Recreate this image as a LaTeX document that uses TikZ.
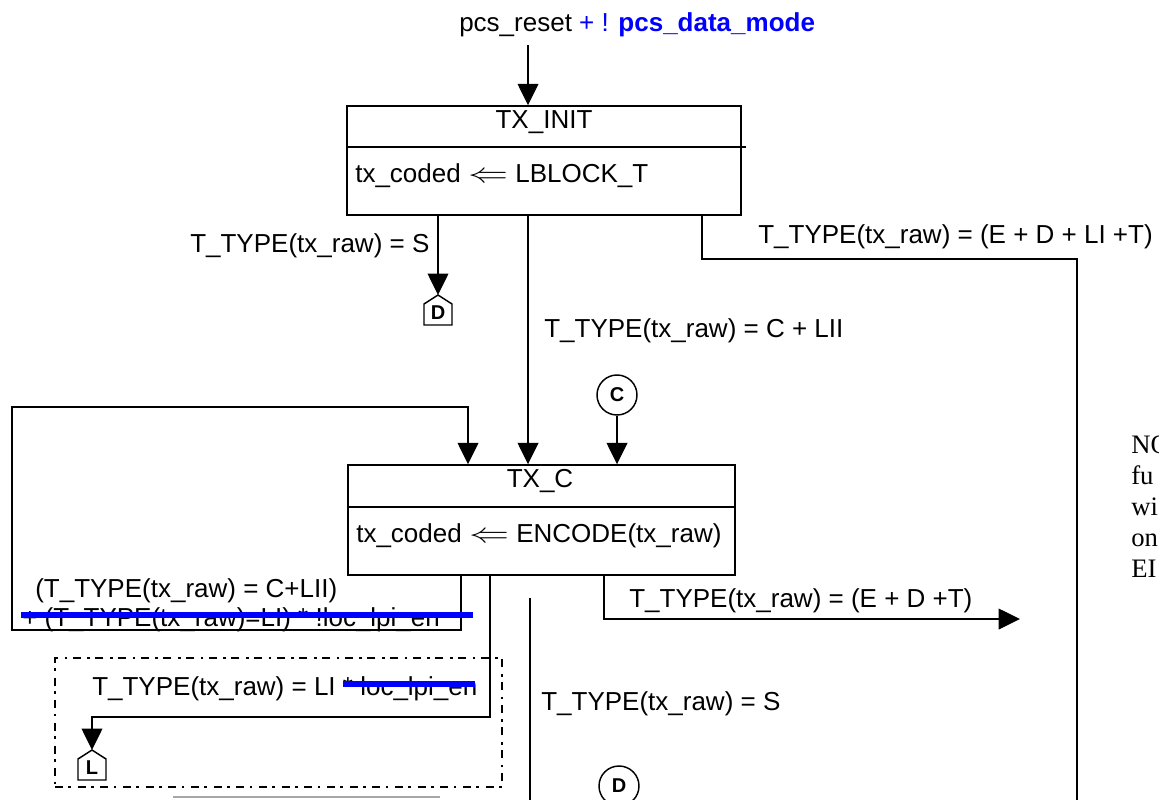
\documentclass[tikz,border=0pt]{standalone}
\usepackage{fontspec}
\setmainfont{Liberation Sans}
\newfontfamily\notefont{Liberation Serif}
\usetikzlibrary{arrows.meta,calc}
\definecolor{pureblue}{RGB}{0,0,255}

% wide assignment arrow
\newcommand\assignarrow{\scalebox{1.45}[1.0]{$\Leftarrow$}}

% off-page connector: house-shaped outline around a bold letter
\newcommand\offpage[3]{%
  \node[offlbl] (#1) at (#2) {#3};
  \draw[wire] ($(#1)+(-14,12)$) -- ++(0,-21) -- ++(14,-9) -- ++(14,9) -- ++(0,21) -- cycle;
  \coordinate (#1top) at ($(#1)+(0,-18)$);
}

\begin{document}
\begin{tikzpicture}[x=0.75pt,y=-0.75pt,
  font=\fontsize{19.5}{23}\selectfont,
  wire/.style={line width=1.1pt},
  arr/.style={wire,-{Triangle[length=16pt,width=15.5pt]}},
  statebox/.style={draw,line width=1.1pt,rectangle,inner sep=0pt},
  lbl/.style={anchor=base west,inner sep=0pt},
  ttl/.style={anchor=base,inner sep=0pt},
  strike/.style={pureblue,line width=3.8pt},
  conn/.style={circle,draw,line width=1.1pt,minimum size=30pt,inner sep=0pt,
               font=\fontsize{15}{17}\selectfont\bfseries},
  offlbl/.style={inner sep=0pt,font=\fontsize{15}{17}\selectfont\bfseries},
  dashbox/.style={draw,line width=1.6pt,dash pattern=on 6pt off 4pt on 2pt off 5pt}
]
\clip (0,0) rectangle (1159,799);
\useasboundingbox (0,0) rectangle (1159,799);

% reset condition
\node[lbl] (reset) at (459,32) {pcs\_reset \textcolor{pureblue}{+ ! \textbf{pcs\_data\_mode}}};
\coordinate (a1) at (528,45);

% TX_INIT state
\node[statebox,minimum width=295.5pt,minimum height=81.75pt] (txinit) at (544,160.5) {};
\draw[wire] (347,147) -- (746,147);
\node[ttl] (txinitname) at (544,128) {TX\_INIT};
\node[lbl] (txinitact) at (355,182) {tx\_coded \assignarrow{} LBLOCK\_T};
\draw[arr] (a1) -- (a1 |- txinit.north);

% TX_C state
\node[statebox,minimum width=290.25pt,minimum height=82.5pt] (txc) at (541.5,520) {};
\draw[wire] (348,507) -- (735,507);
\node[ttl] (txcname) at (540,487) {TX\_C};
\node[lbl] (txcact) at (356,542) {tx\_coded \assignarrow{} ENCODE(tx\_raw)};

% TX_INIT -> off-page D
\offpage{offD}{438,313}{D}
\draw[arr] (txinit.south -| offDtop) -- (offDtop);
\node[lbl] (lblS1) at (190,252) {T\_TYPE(tx\_raw) = S};

% TX_INIT -> TX_C
\coordinate (m) at (528,300);
\draw[arr] (txinit.south -| m) -- (txc.north -| m);
\node[lbl] (lblC1) at (544,337) {T\_TYPE(tx\_raw) = C + LII};

% TX_INIT -> right
\coordinate (r1) at (702,259);
\coordinate (r2) at (1077,259);
\coordinate (r3) at (1077,802);
\draw[wire] (txinit.south -| r1) -- (r1) -- (r2) -- (r3);
\node[lbl] (lblE1) at (758,243) {T\_TYPE(tx\_raw) = (E + D + LI +T)};

% on-page connector C -> TX_C
\node[conn] (conC) at (617,395) {C};
\draw[arr] (conC) -- (conC |- txc.north);

% TX_C self loop
\coordinate (l1) at (461,630);
\coordinate (l2) at (12,630);
\coordinate (l3) at (12,407);
\coordinate (l4) at (468,407);
\draw[arr] (txc.south -| l1) -- (l1) -- (l2) -- (l3) -- (l4) -- (l4 |- txc.north);
\node[lbl] (lblLoop1) at (35,597) {(T\_TYPE(tx\_raw) = C+LII)};
\node[lbl] (lblLoop2) at (22,626) {+ (T\_TYPE(tx\_raw)=LI) * !loc\_lpi\_en};
\draw[strike] (21,615) -- (473,615);

% dashed region with LI transition
\node[dashbox,minimum width=335.25pt,minimum height=96.75pt] (lscope) at (278.5,722.5) {};
\offpage{offL}{92,768}{L}
\coordinate (k1) at (490,717);
\coordinate (k2) at (92,717);
\draw[arr] (txc.south -| k1) -- (k1) -- (k2) -- (offLtop);
\node[lbl] (lblLI) at (92,695) {T\_TYPE(tx\_raw) = LI * loc\_lpi\_en};
\draw[strike] (343,684) -- (475,684);
\coordinate (g1) at (173,797);
\coordinate (g2) at (440,797);
\draw[gray!70,line width=0.8pt] (g1) -- (g2);

% TX_C -> right
\coordinate (e1) at (604,619);
\coordinate (e2) at (1020,619);
\draw[arr] (txc.south -| e1) -- (e1) -- (e2);
\node[lbl] (lblE2) at (629,607) {T\_TYPE(tx\_raw) = (E + D +T)};

% TX_C -> S branch
\coordinate (f1) at (530,598);
\coordinate (f2) at (530,802);
\draw[wire] (f1) -- (f2);
\node[lbl] (lblS2) at (541,710) {T\_TYPE(tx\_raw) = S};
\node[conn] (conD) at (619,786) {D};

% side note
\node[anchor=north west,align=left,inner sep=0pt,
      font=\notefont\fontsize{20}{23.25}\selectfont] (note) at (1131,436) {NO\\fu\\wi\\on\\EI};
\end{tikzpicture}
\end{document}
